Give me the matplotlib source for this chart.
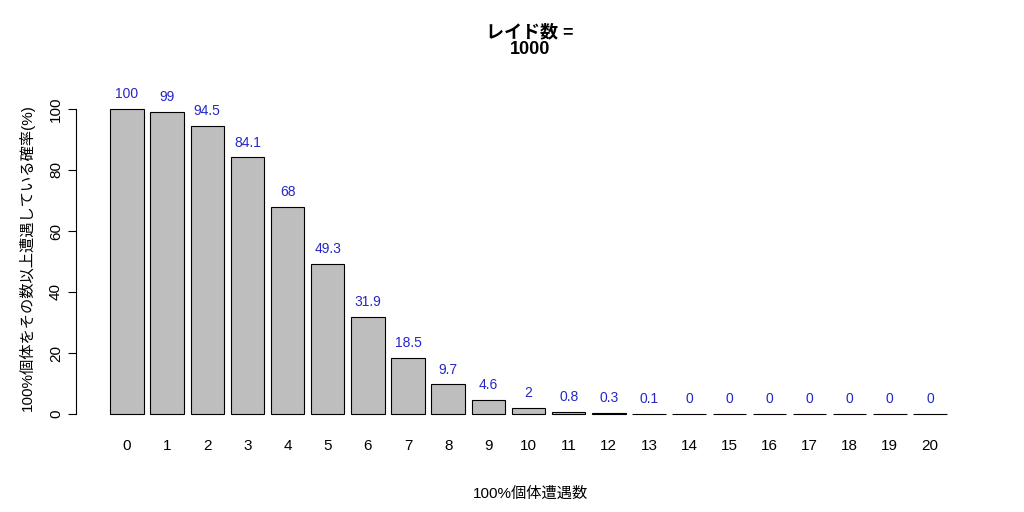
import matplotlib
matplotlib.use("Agg")
import matplotlib.pyplot as plt

plt.rcParams['font.family'] = ['Liberation Sans', 'Noto Sans CJK JP', 'DejaVu Sans']

counts = list(range(21))
probs = [100, 99, 94.5, 84.1, 68, 49.3, 31.9, 18.5, 9.7, 4.6, 2, 0.8, 0.3, 0.1, 0, 0, 0, 0, 0, 0, 0]
labels = ["100", "99", "94.5", "84.1", "68", "49.3", "31.9", "18.5", "9.7", "4.6", "2", "0.8",
          "0.3", "0.1", "0", "0", "0", "0", "0", "0", "0"]

W, H = 1024, 512
fig = plt.figure(figsize=(W / 100, H / 100), dpi=100)
ax = fig.add_axes([90 / W, 1 - 425 / H, 880 / W, 335 / H])

ax.bar(counts, probs, width=0.833, color="#bebebe", edgecolor="black", linewidth=0.8)
for x, v, t in zip(counts, probs, labels):
    ax.text(x, v + 2.5, t, ha="center", va="bottom", color="#2626c8", fontsize=10)

ax.set_xlim((90 - 127) / 40.15, (970 - 127) / 40.15)
ax.set_ylim(-11 / 3.05, 100 + 19 / 3.05)
for s in ["top", "right", "bottom"]:
    ax.spines[s].set_visible(False)
ax.spines["left"].set_position(("outward", 10))
ax.spines["left"].set_bounds(0, 100)
ax.set_yticks([0, 20, 40, 60, 80, 100])
ax.set_yticklabels(["0", "20", "40", "60", "80", "100"], rotation=90, va="center", fontsize=11)
ax.set_xticks(counts)
ax.set_xticklabels([str(c) for c in counts], fontsize=11)
ax.tick_params(axis="x", length=0, pad=10)
ax.tick_params(axis="y", length=6)

ax.set_xlabel("100%個体遭遇数", fontsize=11, labelpad=24)
ax.set_ylabel("100%個体をその数以上遭遇している確率(%)", fontsize=11, labelpad=10)
fig.text(530 / W, 1 - 41 / H, "レイド数 =\n1000", ha="center", va="center",
         fontsize=13, fontweight="bold", linespacing=1.0)

fig.savefig("out.png", dpi=100)
